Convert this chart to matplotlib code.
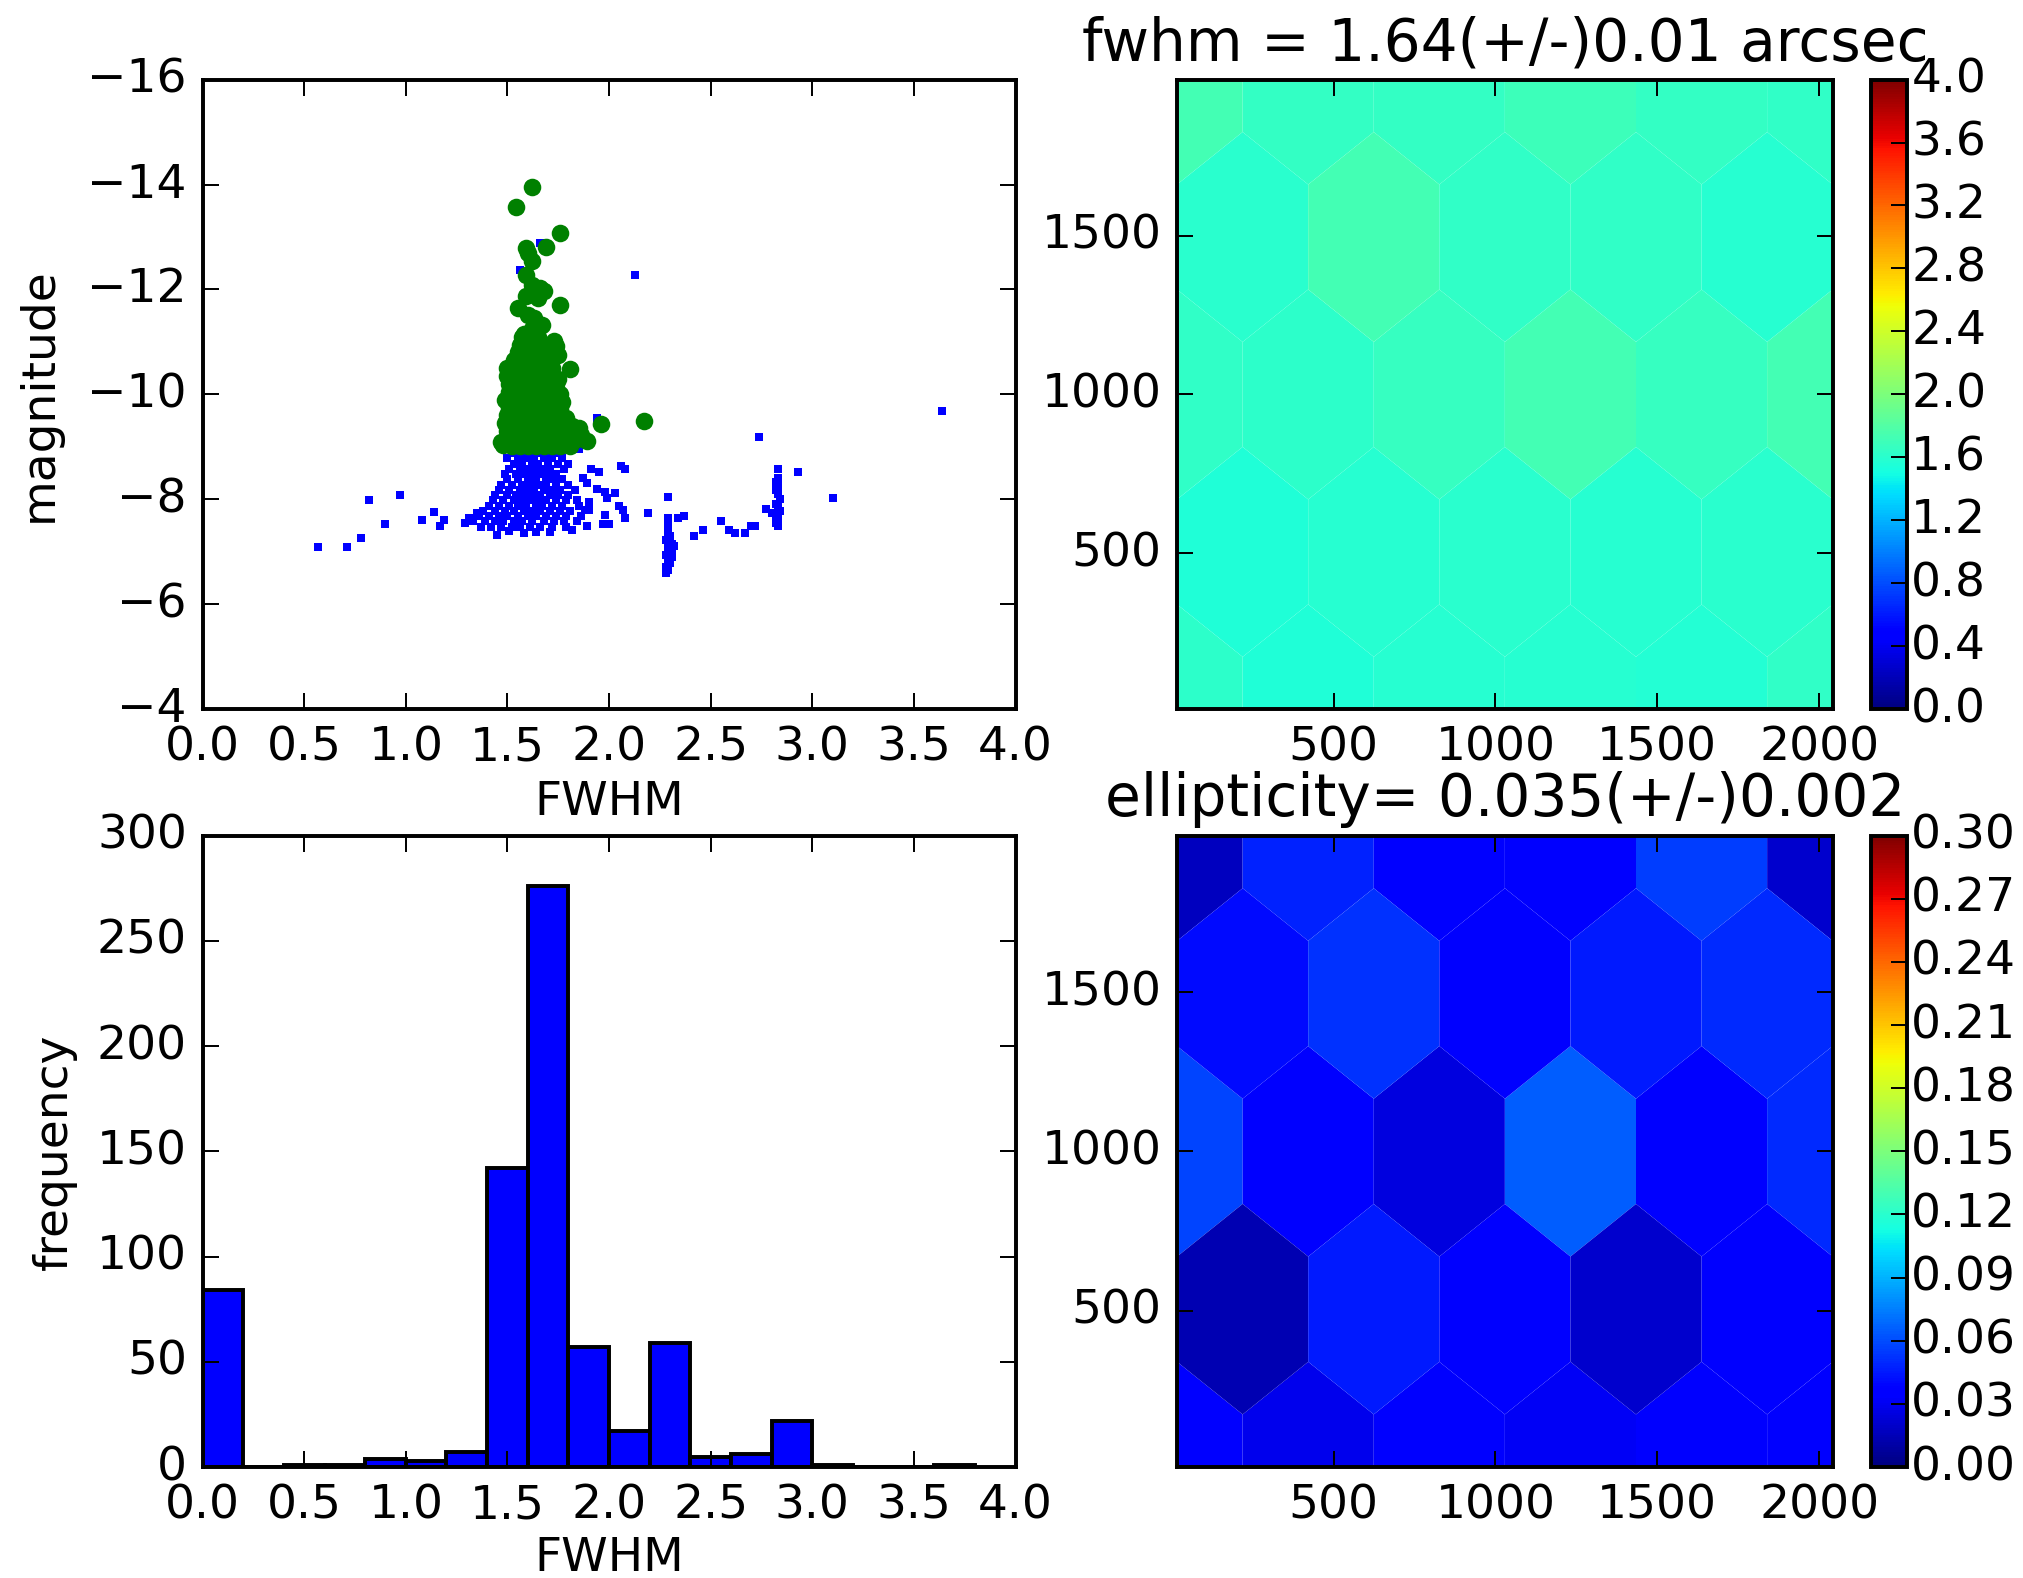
import numpy as np
import matplotlib
matplotlib.use("Agg")
import matplotlib.pyplot as plt

# ---- scatter: all detected sources (blue) ----
all_stars = [
    (1.52, -8.88), (1.57, -8.88), (1.61, -8.88), (1.66, -8.88), (1.70, -8.88), (1.74, -8.88),
    (1.50, -8.78), (1.55, -8.78), (1.59, -8.78), (1.63, -8.78), (1.68, -8.78), (1.72, -8.78), (1.77, -8.78),
    (1.53, -8.68), (1.57, -8.68), (1.62, -8.68), (1.65, -8.68), (1.70, -8.68), (1.75, -8.68), (1.80, -8.68),
    (1.51, -8.58), (1.56, -8.58), (1.60, -8.58), (1.64, -8.58), (1.67, -8.58), (1.71, -8.58), (1.78, -8.58), (1.91, -8.58),
    (1.49, -8.48), (1.54, -8.48), (1.58, -8.48), (1.62, -8.48), (1.66, -8.48), (1.70, -8.48), (1.74, -8.48), (1.87, -8.41),
    (1.50, -8.38), (1.55, -8.38), (1.60, -8.38), (1.64, -8.38), (1.69, -8.38), (1.73, -8.38), (1.77, -8.38), (1.89, -8.31),
    (1.47, -8.28), (1.52, -8.28), (1.57, -8.28), (1.61, -8.28), (1.65, -8.28), (1.69, -8.28), (1.74, -8.28), (1.80, -8.28),
    (1.46, -8.18), (1.51, -8.18), (1.56, -8.18), (1.60, -8.18), (1.63, -8.18), (1.68, -8.18), (1.72, -8.18), (1.76, -8.18), (1.83, -8.18), (1.94, -8.20),
    (1.44, -8.08), (1.50, -8.08), (1.54, -8.08), (1.58, -8.08), (1.62, -8.08), (1.66, -8.08), (1.71, -8.08), (1.75, -8.08), (1.80, -8.08), (1.98, -8.15),
    (1.43, -7.98), (1.48, -7.98), (1.53, -7.98), (1.57, -7.98), (1.61, -7.98), (1.65, -7.98), (1.69, -7.98), (1.74, -7.98), (1.79, -7.98), (1.84, -7.98),
    (1.41, -7.88), (1.46, -7.88), (1.51, -7.88), (1.55, -7.88), (1.59, -7.88), (1.64, -7.88), (1.67, -7.88), (1.72, -7.88), (1.77, -7.88), (1.85, -7.88), (1.90, -7.96),
    (1.38, -7.78), (1.44, -7.78), (1.49, -7.78), (1.53, -7.78), (1.58, -7.78), (1.62, -7.78), (1.66, -7.78), (1.71, -7.78), (1.76, -7.78), (1.81, -7.78), (1.88, -7.80),
    (1.36, -7.68), (1.41, -7.68), (1.46, -7.68), (1.50, -7.68), (1.55, -7.68), (1.60, -7.68), (1.64, -7.68), (1.69, -7.68), (1.74, -7.68), (1.79, -7.68), (1.86, -7.68),
    (1.33, -7.58), (1.39, -7.58), (1.44, -7.58), (1.48, -7.58), (1.53, -7.58), (1.57, -7.58), (1.62, -7.58), (1.68, -7.58), (1.73, -7.58), (1.78, -7.58), (1.84, -7.58),
    (1.37, -7.48), (1.42, -7.48), (1.47, -7.48), (1.52, -7.48), (1.56, -7.48), (1.61, -7.48), (1.66, -7.48), (1.72, -7.48), (1.79, -7.48), (1.89, -7.49),
    (1.45, -7.33), (1.51, -7.40), (1.58, -7.36), (1.64, -7.38), (1.71, -7.38), (1.82, -7.42),
    (0.57, -7.09), (0.71, -7.09), (0.78, -7.27), (0.82, -7.98), (0.97, -8.08), (0.90, -7.54),
    (1.08, -7.60), (1.14, -7.76), (1.17, -7.49), (1.19, -7.60), (1.29, -7.55), (1.31, -7.65), (1.35, -7.74),
    (1.85, -8.97), (1.95, -8.53), (1.99, -8.03), (2.03, -8.13), (2.05, -7.87), (2.07, -7.80), (2.08, -7.65),
    (1.98, -7.71), (2.00, -7.54), (1.97, -7.54), (2.06, -8.63), (2.08, -8.57), (1.90, -7.80),
    (2.13, -12.28), (2.19, -7.75), (2.74, -9.19), (3.64, -9.68), (2.93, -8.53), (3.10, -8.03),
    (2.29, -8.04), (2.29, -7.65), (2.34, -7.65), (2.37, -7.69), (2.29, -7.49), (2.42, -7.30),
    (2.46, -7.42), (2.55, -7.58), (2.59, -7.42), (2.62, -7.36), (2.67, -7.36), (2.70, -7.49), (2.72, -7.50),
    (2.29, -7.38), (2.30, -7.30), (2.28, -7.22), (2.31, -7.15), (2.29, -7.08), (2.30, -7.02), (2.28, -6.95),
    (2.31, -6.90), (2.29, -6.84), (2.30, -6.78), (2.28, -6.72), (2.29, -6.66), (2.28, -6.60), (2.32, -7.12), (2.31, -6.98),
    (2.83, -8.58), (2.83, -8.41), (2.82, -8.33), (2.83, -8.25), (2.82, -8.17), (2.83, -8.10), (2.84, -8.00),
    (2.82, -7.92), (2.83, -7.85), (2.84, -7.78), (2.82, -7.70), (2.83, -7.62), (2.82, -7.55), (2.83, -7.49),
    (2.77, -7.82), (2.80, -7.75),
    (1.56, -12.38), (1.66, -12.89), (1.85, -9.42), (1.94, -9.55), (1.60, -10.0), (1.65, -9.5),
]

# ---- scatter: selected stars (green) ----
good_stars = [
    (1.62, -13.96), (1.54, -13.58), (1.76, -13.08), (1.59, -12.79), (1.69, -12.80), (1.60, -12.70),
    (1.62, -12.54), (1.59, -12.28), (1.62, -12.09), (1.66, -12.03), (1.68, -11.97), (1.59, -11.87),
    (1.65, -11.83), (1.55, -11.65), (1.76, -11.70), (1.60, -11.52), (1.63, -11.45), (1.67, -11.33),
    (1.62, -11.25), (1.58, -11.15), (1.73, -11.01), (1.74, -10.92), (1.81, -10.49), (1.96, -9.44),
    (2.17, -9.49), (1.85, -9.36), (1.86, -9.22), (1.48, -9.04), (1.47, -9.10), (1.89, -9.12),
    (1.57, -11.1), (1.61, -11.1), (1.65, -11.1),
    (1.56, -10.95), (1.60, -10.95), (1.64, -10.95), (1.68, -10.95),
    (1.55, -10.8), (1.59, -10.8), (1.63, -10.8), (1.67, -10.8), (1.71, -10.8), (1.75, -10.75),
    (1.53, -10.65), (1.57, -10.65), (1.62, -10.65), (1.66, -10.65), (1.70, -10.65),
    (1.50, -10.5), (1.56, -10.5), (1.60, -10.5), (1.64, -10.5), (1.68, -10.5), (1.72, -10.5),
    (1.50, -10.35), (1.55, -10.35), (1.59, -10.35), (1.63, -10.35), (1.67, -10.35), (1.71, -10.35), (1.75, -10.30),
    (1.51, -10.2), (1.56, -10.2), (1.61, -10.2), (1.65, -10.2), (1.69, -10.2), (1.74, -10.2),
    (1.51, -10.05), (1.55, -10.05), (1.59, -10.05), (1.63, -10.05), (1.67, -10.05), (1.72, -10.05), (1.76, -10.0),
    (1.49, -9.9), (1.56, -9.9), (1.60, -9.9), (1.64, -9.9), (1.68, -9.9), (1.73, -9.9), (1.77, -9.85),
    (1.51, -9.75), (1.55, -9.75), (1.59, -9.75), (1.63, -9.75), (1.67, -9.75), (1.71, -9.75), (1.76, -9.72),
    (1.50, -9.6), (1.54, -9.6), (1.58, -9.6), (1.62, -9.6), (1.66, -9.6), (1.70, -9.6), (1.75, -9.6), (1.79, -9.55),
    (1.49, -9.45), (1.55, -9.45), (1.59, -9.45), (1.63, -9.45), (1.68, -9.45), (1.72, -9.45), (1.77, -9.45), (1.82, -9.40),
    (1.50, -9.3), (1.54, -9.3), (1.58, -9.3), (1.62, -9.3), (1.66, -9.3), (1.70, -9.3), (1.74, -9.3), (1.79, -9.3),
    (1.50, -9.15), (1.55, -9.15), (1.59, -9.15), (1.63, -9.15), (1.67, -9.15), (1.71, -9.15), (1.75, -9.15), (1.80, -9.15), (1.84, -9.15),
    (1.52, -9.02), (1.56, -9.02), (1.60, -9.02), (1.64, -9.02), (1.68, -9.02), (1.72, -9.02), (1.76, -9.02), (1.81, -9.02),
]

# ---- histogram of FWHM ----
hist_edges = [0.0, 0.2, 0.4, 0.6, 0.8, 1.0, 1.2, 1.4, 1.6, 1.8, 2.0,
              2.2, 2.4, 2.6, 2.8, 3.0, 3.2, 3.4, 3.6, 3.8]
hist_counts = [84, 0, 1, 1, 4, 3, 7, 142, 276, 57, 17, 59, 5, 6, 22, 1, 0, 0, 1]

# ---- hexbin cell centres (CCD pixels) and mean values ----
hex_extent = (16, 2042, 9, 1991)
cell_x1 = [16, 421, 826, 1232, 1637, 2042]
cell_y1 = [9, 1000, 1991]
cell_x2 = [219, 624, 1029, 1434, 1839]
cell_y2 = [504, 1495]

fwhm_grid1 = [[1.62, 1.56, 1.58, 1.58, 1.57, 1.63],
              [1.63, 1.62, 1.66, 1.72, 1.66, 1.72],
              [1.72, 1.65, 1.65, 1.70, 1.65, 1.64]]
fwhm_grid2 = [[1.55, 1.58, 1.60, 1.58, 1.60],
              [1.60, 1.72, 1.64, 1.64, 1.58]]

ell_grid1 = [[0.036, 0.029, 0.036, 0.031, 0.034, 0.036],
             [0.058, 0.036, 0.025, 0.065, 0.036, 0.050],
             [0.017, 0.047, 0.036, 0.036, 0.056, 0.020]]
ell_grid2 = [[0.013, 0.045, 0.036, 0.021, 0.034],
             [0.040, 0.052, 0.034, 0.045, 0.050]]

fwhm_title = 'fwhm = 1.64(+/-)0.01 arcsec'
ell_title = 'ellipticity= 0.035(+/-)0.002'


def cells(grid1, grid2):
    xs, ys, cs = [], [], []
    for j, yy in enumerate(cell_y1):
        for i, xx in enumerate(cell_x1):
            xs.append(xx); ys.append(yy); cs.append(grid1[j][i])
    for j, yy in enumerate(cell_y2):
        for i, xx in enumerate(cell_x2):
            xs.append(xx); ys.append(yy); cs.append(grid2[j][i])
    return np.array(xs, float), np.array(ys, float), np.array(cs, float)


plt.style.use('classic')
plt.rcParams['figure.facecolor'] = 'white'
plt.rcParams['savefig.facecolor'] = 'white'
plt.rcParams['font.size'] = 12.0
plt.rcParams['axes.labelpad'] = 2.5

dpi = 283
fig = plt.figure(figsize=(2023.5 / dpi, 1578.5 / dpi), dpi=dpi)

# top left: magnitude vs FWHM
ax1 = fig.add_axes([0.1001, 0.5503, 0.4018, 0.399])
bx, by = zip(*all_stars)
gx, gy = zip(*good_stars)
ax1.scatter(bx, by, s=3.2, marker='s', c='b', linewidths=0)
ax1.scatter(gx, gy, s=20, marker='o', c='g', linewidths=0)
ax1.set_xlim(0, 4)
ax1.set_ylim(-4, -16)
ax1.set_xticks(np.arange(0, 4.01, 0.5))
ax1.set_yticks(np.arange(-16, -3, 2))
ax1.set_xlabel('FWHM')
ax1.set_ylabel('magnitude', labelpad=6.5)

# bottom left: histogram
ax3 = fig.add_axes([0.1001, 0.0703, 0.4018, 0.400])
centres = [(hist_edges[k] + hist_edges[k + 1]) / 2 for k in range(len(hist_counts))]
ax3.hist(centres, bins=hist_edges, weights=hist_counts, color='b', edgecolor='k', linewidth=1.0)
ax3.set_xlim(0, 4)
ax3.set_ylim(0, 300)
ax3.set_xticks(np.arange(0, 4.01, 0.5))
ax3.set_yticks(np.arange(0, 301, 50))
ax3.set_xlabel('FWHM', labelpad=2)
ax3.set_ylabel('frequency', labelpad=5)

# top right: fwhm hexbin
ax2 = fig.add_axes([0.5817, 0.5503, 0.3240, 0.399])
hx, hy, hc = cells(fwhm_grid1, fwhm_grid2)
hb1 = ax2.hexbin(hx, hy, C=hc, gridsize=5, extent=hex_extent, cmap='jet',
                 vmin=0, vmax=4, linewidths=0)
ax2.set_xlim(hex_extent[0], hex_extent[1])
ax2.set_ylim(hex_extent[2], hex_extent[3])
ax2.set_xticks([500, 1000, 1500, 2000])
ax2.set_yticks([500, 1000, 1500])
ax2.set_title(fwhm_title, fontsize=14.8)
cax1 = fig.add_axes([0.9248, 0.5503, 0.0178, 0.399])
cb1 = fig.colorbar(hb1, cax=cax1, ticks=np.linspace(0, 4, 11), format='%.1f')
cb1.ax.tick_params(pad=1)

# bottom right: ellipticity hexbin
ax4 = fig.add_axes([0.5817, 0.0703, 0.3240, 0.400])
ex, ey, ec = cells(ell_grid1, ell_grid2)
hb2 = ax4.hexbin(ex, ey, C=ec, gridsize=5, extent=hex_extent, cmap='jet',
                 vmin=0, vmax=0.3, linewidths=0)
ax4.set_xlim(hex_extent[0], hex_extent[1])
ax4.set_ylim(hex_extent[2], hex_extent[3])
ax4.set_xticks([500, 1000, 1500, 2000])
ax4.set_yticks([500, 1000, 1500])
ax4.set_title(ell_title, fontsize=14.8)
cax2 = fig.add_axes([0.9248, 0.0703, 0.0178, 0.400])
cb2 = fig.colorbar(hb2, cax=cax2, ticks=np.linspace(0, 0.3, 11), format='%.2f')
cb2.ax.tick_params(pad=1)

fig.savefig('out.png', dpi=dpi)
